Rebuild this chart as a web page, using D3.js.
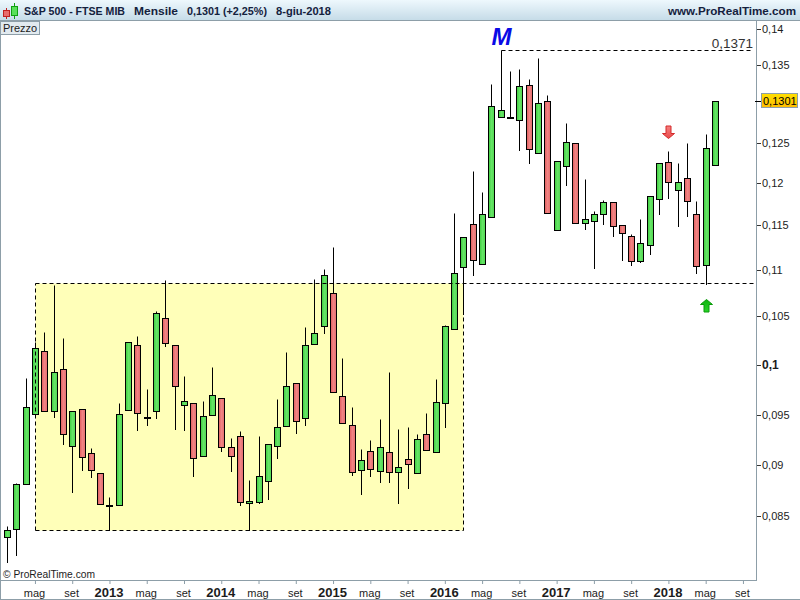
<!DOCTYPE html>
<html><head><meta charset="utf-8">
<script src="https://cdn.jsdelivr.net/npm/d3@7"></script>
<style>
html,body{margin:0;padding:0;background:#fff;overflow:hidden}
svg{display:block}
text{font-family:"Liberation Sans",Arial,sans-serif}
</style></head><body><div id="chart"></div>
<script>
const opens=[.08294,.08373,.08814,.0951,.10143,.0954,.0996,.0919,.0956,.0912,.08922,.08598,.08608,.0955,.10204,.0947,.0954,.1048,.10204,.096,.0962,.0909,.095,.0967,.0918,.0929,.08628,.08637,.08843,.0919,.0939,.0982,.0947,.10214,.10398,.1075,.0969,.094,.08951,.0914,.08941,.0913,.08931,.0906,.08922,.0931,.0913,.0962,.10367,.11033,.11512,.11067,.11595,.12817,.12805,.1278,.1323,.12375,.13014,.11444,.12213,.125,.11524,.11548,.11631,.11774,.115,.11378,.111,.11278,.1181,.12263,.11917,.12063,.11631,.11056,.12225];
const closes=[.08363,.08814,.0958,.10174,.0954,.0993,.0931,.0954,.0908,.08951,.08618,.08608,.0951,.10235,.0952,.0948,.10533,.10225,.0979,.0964,.0907,.0949,.097,.0918,.0909,.08637,.08647,.08892,.0921,.0938,.0979,.0944,.10204,.10327,.10946,.0973,.0942,.08931,.0905,.08961,.0918,.08931,.0898,.0901,.0926,.0915,.0963,.10398,.10967,.11367,.11111,.11631,.12951,.12902,.12817,.13216,.12425,.12988,.11643,.12275,.12512,.11524,.11571,.11631,.11774,.11489,.11411,.111,.113,.11845,.1225,.12013,.12013,.11786,.11044,.12438,.13014];
const highs=[.08402,.08824,.0987,.10235,.10337,.10837,.10276,.0954,.0956,.0917,.08922,.08686,.0962,.10235,.10296,.0976,.10554,.10891,.10204,.0989,.0962,.0964,.0998,.0967,.0927,.0934,.08853,.0929,.0921,.0966,.10133,.0982,.10388,.10902,.11011,.11256,.10072,.0958,.0916,.0925,.0946,.0993,.0936,.0938,.0931,.0952,.0986,.10408,.11643,.11367,.1215,.11893,.13243,.13708,.13419,.13446,.13311,.13597,.13095,.12275,.12744,.125,.1205,.11667,.11798,.11774,.115,.114,.11571,.11845,.1225,.124,.1225,.125,.11786,.1261,.13014];
const lows=[.08049,.08118,.08814,.0949,.0954,.0948,.0921,.08735,.08951,.08882,.08618,.08363,.08608,.0955,.0935,.094,.0947,.10194,.0936,.0935,.08892,.0909,.095,.0914,.08941,.08608,.08363,.08628,.08667,.0907,.0939,.0932,.094,.10214,.10327,.0973,.0942,.08902,.08716,.08892,.08833,.08833,.08628,.08775,.08922,.0915,.0913,.0938,.10367,.10522,.10946,.11067,.11595,.12817,.12805,.12412,.1225,.12375,.11643,.11444,.11976,.11524,.11456,.11022,.11512,.11378,.11111,.11056,.11089,.11178,.11631,.11821,.11489,.11607,.10967,.10848,.12225];
const priceTicks=[.085,.09,.095,.1,.105,.11,.115,.12,.125,.135,.14];
const scaleValues=[.085,.09,.095,.1,.105,.11,.115,.12,.125,.13,.135,.14];
const scaleRows=[516,465,415,365,316,270,225,183,143,102,65,29];
const timeTickIndex=[3,7,11,15,19,23,27,31,35,39,43,47,51,55,59,63,67,71,75,79];
const timeTickLabels=["mag","set","2013","mag","set","2014","mag","set","2015","mag","set","2016","mag","set","2017","mag","set","2018","mag","set"];
const lastPrice=.1301, maxPrice=.1371, supportPrice=.1086, boxLow=.0836;
const maxIndex=53, supportIndex=75, boxStart=3, boxEnd=49, sellIndex=71;
const W=800,H=600,axisX=756,axisY=580,frame="#8d9ea8",ink="#1c1c1c";

const svg=d3.select("#chart").append("svg").attr("width",W).attr("height",H).attr("viewBox",[0,0,W,H]);
const defs=svg.append("defs");
function grad(id,stops,horizontal){
  const g=defs.append("linearGradient").attr("id",id).attr("x1",0).attr("y1",0).attr("x2",horizontal?1:0).attr("y2",horizontal?0:1);
  stops.forEach((c,i)=>g.append("stop").attr("offset",i/(stops.length-1)).attr("stop-color",c));
}
grad("up",["#3ccb3c","#66e466","#50d850"],true);
grad("down",["#e05c5c","#f08484","#e46c6c"],true);
grad("bar",["#eef8fd","#c6dce8"],false);
grad("gold",["#ffe000","#ffbc00"],false);
grad("sell",["#f68080","#e84a4a"],false);
grad("buy",["#28d428","#0fb40f"],false);

const x=d3.scaleLinear().domain([0,76]).range([7,715]);
const y=d3.scaleLinear().domain(scaleValues).range(scaleRows);
const px=i=>Math.round(x(i))+.5;
const py=v=>Math.round(y(v))+.5;
const comma=v=>String(+v.toFixed(4)).replace(".",",");

// shaded box
svg.append("rect").attr("x",px(boxStart)).attr("y",py(supportPrice)).attr("width",px(boxEnd)-px(boxStart)).attr("height",py(boxLow)-py(supportPrice)).attr("fill","#ffffb9");

// candles
const c=svg.append("g").selectAll("g").data(d3.range(opens.length)).join("g");
c.append("line").attr("x1",px).attr("x2",px).attr("y1",i=>py(highs[i])).attr("y2",i=>py(lows[i])+.5).attr("stroke","#000");
c.append("rect").attr("x",i=>px(i)-3).attr("width",6)
 .attr("y",i=>py(Math.max(opens[i],closes[i])))
 .attr("height",i=>Math.abs(py(opens[i])-py(closes[i])))
 .attr("fill",i=>closes[i]>=opens[i]?"url(#up)":"url(#down)")
 .attr("stroke","#000");

// dashed guides
const dash=svg.append("g").attr("fill","none").attr("stroke","#000").attr("stroke-dasharray","4,3");
dash.append("path").attr("d",d3.line()([[px(boxStart),py(boxLow)],[px(boxStart),py(supportPrice)]]));
dash.append("path").attr("d",d3.line()([[px(boxStart),py(boxLow)],[px(boxEnd),py(boxLow)],[px(boxEnd),py(supportPrice)]]));
dash.append("path").attr("d",d3.line()([[px(boxStart),py(supportPrice)],[axisX,py(supportPrice)]]));
dash.append("path").attr("d",d3.line()([[px(maxIndex),py(maxPrice)],[752,py(maxPrice)]]));
svg.append("text").attr("x",753).attr("y",py(maxPrice)-3).attr("text-anchor","end").attr("font-size",13.5).attr("fill","#333").text(comma(maxPrice));
svg.append("text").attr("x",px(maxIndex)).attr("y",py(maxPrice)-6).attr("text-anchor","middle").attr("font-size",24).attr("font-weight","bold").attr("font-style","italic").attr("fill","#0a0ae6").text("M");

// arrows
const arrow=[[-2.5,0],[2.5,0],[2.5,7.5],[6,7.5],[0,12.5],[-6,7.5],[-2.5,7.5]];
svg.append("path").attr("d",d3.line()(arrow)+"Z").attr("transform",`translate(${px(sellIndex)},${py(highs[sellIndex])-25.5})`).attr("fill","url(#sell)").attr("stroke","#d42a2a");
svg.append("path").attr("d",d3.line()(arrow)+"Z").attr("transform",`translate(${px(supportIndex)},${py(lows[supportIndex])+27.5}) scale(1,-1)`).attr("fill","url(#buy)").attr("stroke","#0a9a0a");

// frame
svg.append("rect").attr("x",0).attr("y",0).attr("width",W).attr("height",20).attr("fill","url(#bar)");
const fr=svg.append("g").attr("stroke",frame).attr("fill","none");
fr.append("path").attr("d",`M0,20.5H${W}`);
fr.append("path").attr("d",`M.5,20V${H}`);
fr.append("path").attr("d",`M${axisX+.5},20V${axisY+1}`);
fr.append("path").attr("d",`M0,${axisY+.5}H${axisX+1}`);
fr.append("path").attr("d",`M0,${H-.5}H${W}`);

// axes
const ya=svg.append("g").attr("transform",`translate(${axisX+1},0)`)
 .call(d3.axisRight(y).tickValues(priceTicks).tickSize(4).tickPadding(1).tickFormat(comma));
ya.select(".domain").remove();
ya.selectAll("line").attr("stroke","#333");
ya.selectAll("text").attr("font-family",'"Liberation Sans"').attr("font-size",d=>d===.1?12:11).attr("fill",ink)
 .attr("font-weight",d=>d===.1?"bold":"normal");
const xa=svg.append("g").attr("transform",`translate(0,${axisY})`)
 .call(d3.axisBottom(x).tickValues(timeTickIndex).tickSize(4).tickPadding(0).tickFormat((d,i)=>timeTickLabels[i]));
xa.select(".domain").remove();
xa.selectAll("line").attr("stroke",frame);
xa.selectAll("text").attr("y",null).attr("dy",null).attr("dx",-1)
 .attr("transform",null).attr("font-family",'"Liberation Sans"').attr("fill",ink)
 .each(function(d,i){const b=/^\d/.test(timeTickLabels[i]);
   d3.select(this).attr("y",17).attr("font-size",b?13:11).attr("font-weight",b?"bold":"normal");});

// last price tag
svg.append("line").attr("x1",axisX-1).attr("x2",762).attr("y1",py(lastPrice)).attr("y2",py(lastPrice)).attr("stroke","#000");
svg.append("rect").attr("x",761.5).attr("y",93.5).attr("width",36).attr("height",14).attr("fill","url(#gold)").attr("stroke",frame);
svg.append("text").attr("x",763).attr("y",105).attr("font-size",11).attr("fill","#000").text(comma(lastPrice));

// header
svg.append("rect").attr("x",.5).attr("y",21.5).attr("width",39).attr("height",13).attr("fill","#e2eaef").attr("stroke",frame);
svg.append("text").attr("x",3).attr("y",32).attr("font-size",11).attr("fill",ink).text("Prezzo");
svg.append("text").attr("x",3).attr("y",578).attr("font-size",11).attr("fill",ink).attr("textLength",92).attr("lengthAdjust","spacingAndGlyphs").text("© ProRealTime.com");
const title=[["S&P 500 - FTSE MIB",24,101],["Mensile",134,44],["0,1301 (+2,25%)",187,80],["8-giu-2018",276,55],["www.ProRealTime.com",668,128]];
svg.append("g").selectAll("text").data(title).join("text").attr("x",d=>d[1]).attr("y",15).attr("font-size",11).attr("font-weight","bold").attr("fill","#14213d").attr("textLength",d=>d[2]).attr("lengthAdjust","spacingAndGlyphs").text(d=>d[0]);

// title icon
const icon=svg.append("g").attr("stroke","#111");
icon.append("path").attr("d","M6.5,8V19").attr("stroke","#c02020");
icon.append("rect").attr("x",3.5).attr("y",10.5).attr("width",6).attr("height",6).attr("fill","#e86c6c").attr("stroke","#c02020");
icon.append("path").attr("d","M14.5,3V19").attr("stroke","#10a010");
icon.append("rect").attr("x",11.5).attr("y",6.5).attr("width",6).attr("height",9).attr("fill","#58e058").attr("stroke","#10a010");
</script></body></html>
